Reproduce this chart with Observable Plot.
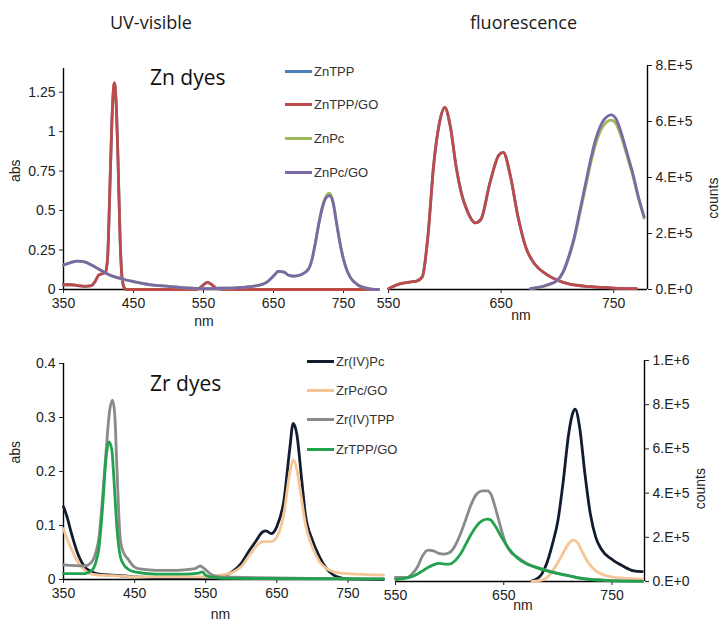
<!DOCTYPE html>
<html><head><meta charset="utf-8">
<script src="https://cdn.jsdelivr.net/npm/d3@7"></script>
<script src="https://cdn.jsdelivr.net/npm/@observablehq/plot@0.6"></script>
<style>
body{margin:0;background:#fff;}
#root{position:relative;width:724px;height:631px;overflow:hidden;font-family:"Liberation Sans",Arial,sans-serif;background:#fff;}
.t{position:absolute;white-space:nowrap;}
.title{font-family:"Open Sans",sans-serif;font-size:18px;color:#1a1a1a;}
.dyes{font-family:"Open Sans",sans-serif;font-size:21px;color:#111;}
.leg{font-size:13px;color:#333;display:flex;align-items:center;}
.leg span.ln{display:inline-block;width:27px;height:3px;margin-right:2px;}
</style></head><body><div id="root"></div>
<script>
// ---------- Zn dyes, UV-visible ----------
const znTppUvNm  = [350,360,370,380,390,395,400,405,410,413,416,419,422,423,425,428,431,434,437,440,500,540,546,550,556,562,570,580,650,700,800];
const znTppUvAbs = [0.03,0.03,0.025,0.02,0.025,0.05,0.09,0.1,0.11,0.2,0.6,1.05,1.29,1.3,1.2,0.8,0.3,0.06,0.01,0,0,0,0.015,0.03,0.045,0.03,0.005,0,0,0,0];
const znTppGoUvAbs = [0.03,0.03,0.025,0.02,0.025,0.05,0.09,0.1,0.11,0.2,0.6,1.05,1.3,1.31,1.2,0.8,0.3,0.06,0.01,0,0,0,0.015,0.03,0.045,0.03,0.005,0,0,0,0];
const znPcUvNm   = [350,360,370,380,390,400,410,420,435,450,475,500,525,550,575,600,620,630,640,650,657,665,672,680,690,700,705,710,715,720,725,730,735,740,745,750,755,760,770,780,790,800];
const znPcUvAbs  = [0.155,0.17,0.18,0.175,0.155,0.13,0.105,0.085,0.065,0.05,0.03,0.02,0.01,0.005,0.008,0.012,0.02,0.028,0.045,0.085,0.115,0.11,0.09,0.085,0.095,0.13,0.19,0.3,0.43,0.53,0.59,0.61,0.56,0.43,0.3,0.195,0.12,0.075,0.03,0.012,0.003,0];
const znPcGoUvAbs= [0.155,0.17,0.18,0.175,0.155,0.13,0.105,0.085,0.065,0.05,0.03,0.02,0.01,0.005,0.008,0.012,0.02,0.028,0.045,0.085,0.115,0.11,0.09,0.085,0.095,0.13,0.19,0.3,0.42,0.52,0.58,0.595,0.55,0.42,0.29,0.19,0.12,0.075,0.03,0.012,0.003,0];

// ---------- Zn dyes, fluorescence ----------
const znTppFlNm     = [550,560,570,575,580,585,590,595,600,605,610,615,620,627,632,640,648,652,658,665,672,680,690,700,710,730,750,770];
const znTppFlCounts = [3e3,2e4,2.7e4,3e4,4.5e4,1.9e5,4.4e5,5.9e5,6.5e5,5.8e5,4.4e5,3.4e5,2.8e5,2.38e5,2.5e5,3.8e5,4.8e5,4.9e5,4.1e5,2.6e5,1.5e5,9e4,5.5e4,3.3e4,2e4,1e4,5e3,3e3];
const znTppGoFlCounts = [3e3,2e4,2.7e4,3e4,4.5e4,1.9e5,4.4e5,5.9e5,6.5e5,5.8e5,4.4e5,3.4e5,2.8e5,2.38e5,2.5e5,3.8e5,4.8e5,4.9e5,4.1e5,2.6e5,1.5e5,9e4,5.5e4,3.3e4,2e4,1e4,5e3,3e3];
const znPcFlNm      = [676,690,700,705,710,715,720,725,730,735,740,745,748,752,757,762,767,772,777];
const znPcFlCounts  = [3e3,1.4e4,3.2e4,6e4,1.12e5,1.8e5,2.72e5,3.65e5,4.58e5,5.33e5,5.8e5,6.02e5,6.05e5,5.92e5,5.42e5,4.75e5,4.06e5,3.25e5,2.55e5];
const znPcGoFlCounts= [3e3,1.5e4,3.3e4,6.3e4,1.17e5,1.88e5,2.83e5,3.78e5,4.73e5,5.5e5,5.98e5,6.2e5,6.24e5,6.1e5,5.56e5,4.85e5,4.14e5,3.3e5,2.6e5];

// ---------- Zr dyes, UV-visible ----------
const zrPcUvNm    = [350,355,360,370,380,390,400,420,450,500,550,560,570,580,590,600,610,620,630,635,642,650,660,668,673,678,685,690,700,710,720,730,740,750,800];
const zrPcUvAbs   = [0.135,0.116,0.091,0.048,0.023,0.014,0.01,0.008,0.005,0.003,0.004,0.005,0.007,0.009,0.017,0.03,0.051,0.07,0.088,0.09,0.085,0.098,0.147,0.24,0.289,0.27,0.184,0.122,0.073,0.042,0.02,0.008,0.003,0.001,0];
const zrPcGoUvAbs = [0.094,0.075,0.06,0.033,0.017,0.01,0.008,0.007,0.005,0.005,0.005,0.006,0.008,0.01,0.015,0.024,0.042,0.06,0.07,0.07,0.07,0.079,0.122,0.196,0.222,0.205,0.147,0.104,0.06,0.033,0.02,0.014,0.012,0.011,0.008];
const zrTppUvNm   = [350,380,390,395,400,405,410,415,419,422,425,430,435,440,450,460,480,500,520,535,542,548,555,560,570,600,700,800];
const zrTppUvAbs  = [0.027,0.025,0.033,0.048,0.079,0.153,0.24,0.314,0.332,0.307,0.21,0.073,0.048,0.039,0.023,0.019,0.017,0.017,0.018,0.02,0.025,0.02,0.012,0.008,0.005,0.004,0.002,0.001];
const zrTppGoUvNm = [350,380,390,395,400,405,410,414,418,421,425,430,435,440,450,480,520,540,545,550,560,580,800];
const zrTppGoUvAbs= [0.011,0.011,0.017,0.03,0.06,0.135,0.227,0.255,0.24,0.184,0.098,0.042,0.027,0.02,0.014,0.01,0.01,0.012,0.014,0.008,0.004,0.002,0.001];

// ---------- Zr dyes, fluorescence ----------
const zrPcFlNm      = [676,680,685,690,695,700,705,710,714,716,720,725,730,735,740,750,760,770,778];
const zrPcFlCounts  = [3e3,1e4,3.3e4,8.6e4,1.7e5,2.75e5,4.56e5,6.7e5,7.66e5,7.8e5,7.0e5,4.86e5,3.05e5,2.0e5,1.47e5,1.0e5,7e4,4.8e4,4.5e4];
const zrPcGoFlNm    = [676,685,690,695,700,705,710,714,718,722,728,735,745,760,778];
const zrPcGoFlCounts= [0,6e3,1.8e4,4.8e4,8.6e4,1.3e5,1.72e5,1.87e5,1.77e5,1.39e5,8.6e4,4.8e4,2.6e4,1.5e4,1e4];
const zrTppFlNm     = [550,560,565,570,575,580,585,590,595,600,605,610,615,620,625,630,635,638,643,648,652,657,662,670,680,690,700,710,720,730,740,750,760,778];
const zrTppFlCounts = [1.8e4,1.8e4,3.3e4,6.3e4,1.16e5,1.42e5,1.39e5,1.27e5,1.24e5,1.31e5,1.62e5,2.15e5,2.82e5,3.5e5,3.96e5,4.1e5,4.1e5,3.96e5,3.2e5,2.3e5,1.7e5,1.3e5,1.12e5,8.5e4,6.5e4,4.9e4,3.7e4,2.7e4,1.6e4,1e4,7e3,4e3,3e3,2e3];
const zrTppGoFlNm   = [550,560,570,575,580,585,590,595,600,605,610,615,620,625,630,635,638,642,648,655,662,670,680,690,700,710,720,730,740,750,760,778];
const zrTppGoFlCounts=[1e4,1.5e4,3.3e4,4.8e4,6.3e4,7.5e4,8.2e4,7.9e4,7.9e4,9.4e4,1.24e5,1.69e5,2.15e5,2.52e5,2.75e5,2.82e5,2.78e5,2.52e5,2.0e5,1.47e5,1.09e5,8.2e4,6.3e4,4.8e4,3.6e4,2.6e4,1.5e4,9e3,6e3,3e3,2e3,1e3];

// ---------- series names / colours ----------
const znNames  = ["ZnTPP","ZnTPP/GO","ZnPc","ZnPc/GO"];
const znColors = ["#4a7ebb","#be4b48","#9bbb59","#7b68a6"];
const zrNames  = ["Zr(IV)Pc","ZrPc/GO","Zr(IV)TPP","ZrTPP/GO"];
const zrColors = ["#111c2e","#f5c597","#8a8a8a","#22a24e"];

// ---------- ticks ----------
const uvNmTicks      = [350,450,550,650,750];
const flNmTicks      = [550,650,750];
const znAbsTicks     = [0,0.25,0.5,0.75,1,1.25];
const znAbsLabels    = ["0","0.25","0.5","0.75","1","1.25"];
const zrAbsTicks     = [0,0.1,0.2,0.3,0.4];
const zrAbsLabels    = ["0","0.1","0.2","0.3","0.4"];
const znCountTicks   = [0,2e5,4e5,6e5,8e5];
const znCountLabels  = ["0.E+0","2.E+5","4.E+5","6.E+5","8.E+5"];
const zrCountTicks   = [0,2e5,4e5,6e5,8e5,1e6];
const zrCountLabels  = ["0.E+0","2.E+5","4.E+5","6.E+5","8.E+5","1.E+6"];

const root = document.getElementById("root");
function rows(nm, vals){ return nm.map((x,i)=>({x, y: vals[i]})); }

function panel(o){
  const tickMapY = new Map(o.yTicks.map((d,i)=>[d,o.yLabels[i]]));
  const marks = [
    Plot.ruleY([o.yDomain[0]], {stroke:"#000", strokeWidth:1.4}),
    Plot.ruleX([o.yAxis === "left" ? o.xDomain[0] : o.xDomain[1]], {stroke:"#000", strokeWidth:1.4}),
    Plot.axisX(o.xTicks, {anchor:"bottom", tickSize:4, tickPadding:5, tickFormat:d=>String(d), label:null, fontSize:14, color:"#222"}),
    Plot.axisY(o.yTicks, {anchor:o.yAxis, tickSize:4, tickPadding:4, tickFormat:d=>tickMapY.get(d), label:null, fontSize:14, color:"#222"}),
    ...o.series.map(s => Plot.line(rows(s.nm, s.v), {x:"x", y:"y", stroke:s.color, strokeWidth:2.8, curve:"monotone-x"})),
    Plot.text(["nm"], {frameAnchor:"bottom", dx:o.nmDx, dy:o.nmDy, fontSize:14, fill:"#222"}),
    Plot.text([o.yTitle], {frameAnchor:o.yAxis, dx:o.yTitleDx, dy:o.yTitleDy, rotate:-90, fontSize:14, fill:"#222"})
  ];
  const p = Plot.plot({
    width:o.w, height:o.h, marginLeft:o.ml, marginRight:o.mr, marginTop:o.mt, marginBottom:o.mb,
    x:{domain:o.xDomain, axis:null}, y:{domain:o.yDomain, axis:null},
    style:{overflow:"visible", background:"transparent", fontFamily:"'Liberation Sans', Arial, sans-serif", fontSize:"14px"},
    marks
  });
  p.style.position = "absolute"; p.style.left = o.left+"px"; p.style.top = o.top+"px";
  root.appendChild(p);
}

panel({left:0, top:40, w:384, h:300, ml:63, mr:6, mt:28, mb:51,
  xDomain:[350,800], yDomain:[0,1.4], xTicks:uvNmTicks, yTicks:znAbsTicks, yLabels:znAbsLabels, yAxis:"left",
  yTitle:"abs", yTitleDx:-48, yTitleDy:3, nmDx:-17, nmDy:36,
  series:[
    {nm:znTppUvNm, v:znTppUvAbs, color:znColors[0]},
    {nm:znTppUvNm, v:znTppGoUvAbs, color:znColors[1]},
    {nm:znPcUvNm, v:znPcUvAbs, color:znColors[2]},
    {nm:znPcUvNm, v:znPcGoUvAbs, color:znColors[3]}
  ]});

panel({left:384, top:40, w:340, h:300, ml:4, mr:77, mt:25, mb:51,
  xDomain:[550,780], yDomain:[0,8e5], xTicks:flNmTicks, yTicks:znCountTicks, yLabels:znCountLabels, yAxis:"right",
  yTitle:"counts", yTitleDx:66, yTitleDy:0, nmDx:3, nmDy:30,
  series:[
    {nm:znTppFlNm, v:znTppFlCounts, color:znColors[0]},
    {nm:znTppFlNm, v:znTppGoFlCounts, color:znColors[1]},
    {nm:znPcFlNm, v:znPcFlCounts, color:znColors[2]},
    {nm:znPcFlNm, v:znPcGoFlCounts, color:znColors[3]}
  ]});

panel({left:0, top:340, w:390, h:291, ml:63, mr:7, mt:23, mb:52,
  xDomain:[350,800], yDomain:[0,0.4], xTicks:uvNmTicks, yTicks:zrAbsTicks, yLabels:zrAbsLabels, yAxis:"left",
  yTitle:"abs", yTitleDx:-48, yTitleDy:-8, nmDx:-3, nmDy:39,
  series:[
    {nm:zrPcUvNm, v:zrPcUvAbs, color:zrColors[0]},
    {nm:zrPcUvNm, v:zrPcGoUvAbs, color:zrColors[1]},
    {nm:zrTppUvNm, v:zrTppUvAbs, color:zrColors[2]},
    {nm:zrTppGoUvNm, v:zrTppGoUvAbs, color:zrColors[3]}
  ]});

panel({left:384, top:340, w:340, h:291, ml:11, mr:80, mt:20, mb:50,
  xDomain:[550,780], yDomain:[0,1e6], xTicks:flNmTicks, yTicks:zrCountTicks, yLabels:zrCountLabels, yAxis:"right",
  yTitle:"counts", yTitleDx:56, yTitleDy:-3, nmDx:3, nmDy:28,
  series:[
    {nm:zrPcFlNm, v:zrPcFlCounts, color:zrColors[0]},
    {nm:zrPcGoFlNm, v:zrPcGoFlCounts, color:zrColors[1]},
    {nm:zrTppFlNm, v:zrTppFlCounts, color:zrColors[2]},
    {nm:zrTppGoFlNm, v:zrTppGoFlCounts, color:zrColors[3]}
  ]});

// ---------- text overlays ----------
function addText(cls, txt, left, top){
  const d = document.createElement("div"); d.className = "t " + cls; d.textContent = txt;
  d.style.left = left+"px"; d.style.top = top+"px"; root.appendChild(d); return d;
}
addText("title", "UV-visible", 110, 10);
addText("title", "fluorescence", 470, 10);
addText("dyes", "Zn dyes", 150, 63);
addText("dyes", "Zr dyes", 150, 369);

function legend(names, colors, left, tops){
  names.forEach((n,i)=>{
    const d = document.createElement("div"); d.className = "t leg";
    d.style.left = left+"px"; d.style.top = (tops[i]-8)+"px";
    const ln = document.createElement("span"); ln.className = "ln"; ln.style.background = colors[i];
    d.appendChild(ln); d.appendChild(document.createTextNode(n)); root.appendChild(d);
  });
}
legend(znNames, znColors, 285, [72,105,139,173]);
legend(zrNames, zrColors, 307, [362,391,420,450]);
</script>
</body></html>
